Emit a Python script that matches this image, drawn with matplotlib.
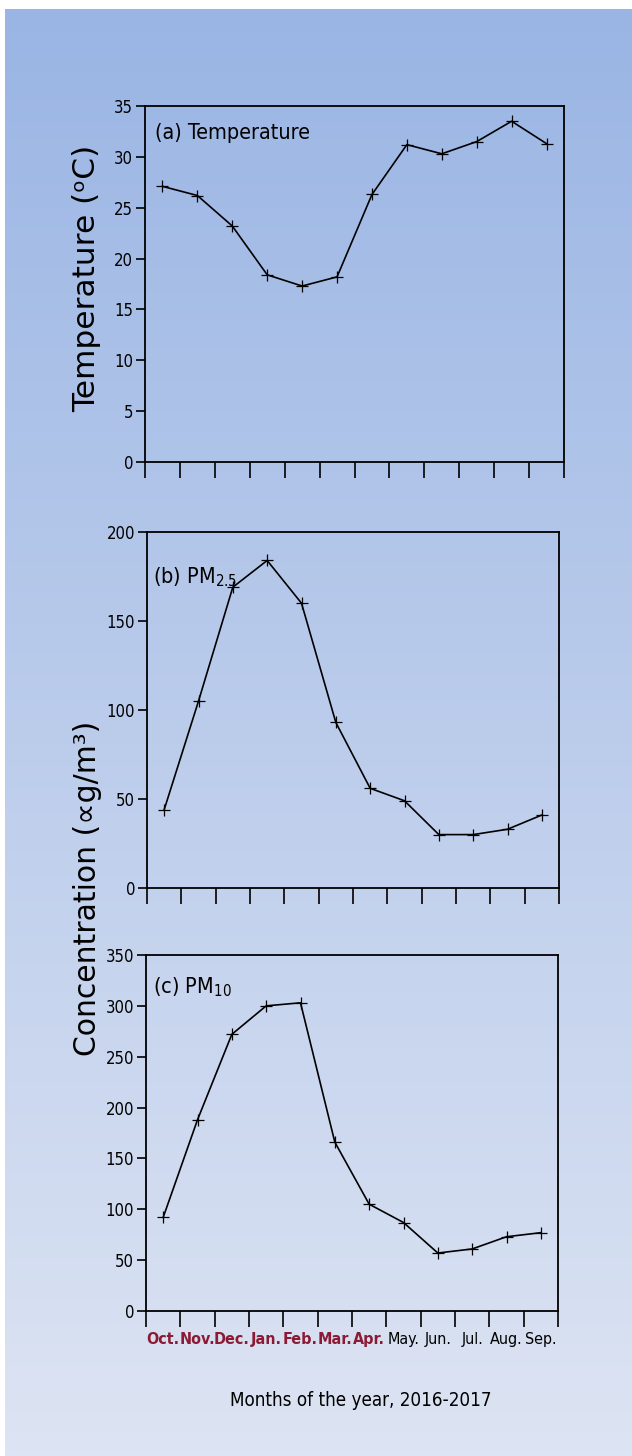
import numpy as np
import matplotlib
matplotlib.use("Agg")
import matplotlib.pyplot as plt
from matplotlib import font_manager as fm
from matplotlib.colors import LinearSegmentedColormap

# look for a narrow face (the reference uses an Arial Narrow-like font)
narrow = None
for f in fm.fontManager.ttflist:
    if f.stretch == 'condensed' or 'Narrow' in f.name or 'Condensed' in f.name:
        narrow = (f.name, f.stretch)
        if 'Sans' in f.name:
            break
if narrow:
    fam, stretch, k = narrow[0], narrow[1], 1.0
else:
    fam, stretch, k = 'Liberation Sans', 'normal', 0.82

plt.rcParams['font.family'] = [fam, 'DejaVu Sans']
plt.rcParams['font.stretch'] = stretch
plt.rcParams['mathtext.fontset'] = 'custom'
plt.rcParams['mathtext.rm'] = fam

# data
months = ['Oct.', 'Nov.', 'Dec.', 'Jan.', 'Feb.', 'Mar.', 'Apr.',
          'May.', 'Jun.', 'Jul.', 'Aug.', 'Sep.']
winter = ['Oct.', 'Nov.', 'Dec.', 'Jan.', 'Feb.', 'Mar.', 'Apr.']
temperature = [27.1, 26.2, 23.2, 18.4, 17.3, 18.2, 26.3, 31.2, 30.3, 31.5, 33.5, 31.3]
pm25 = [44, 105, 169, 184, 160, 93, 56, 49, 30, 30, 33, 41]
pm10 = [92, 188, 272, 300, 303, 166, 105, 87, 57, 61, 73, 77]

W, H = 632, 1456
fig = plt.figure(figsize=(W / 100, H / 100), dpi=100)
fig.patch.set_facecolor('white')

# gradient background panel
bg = fig.add_axes([5 / W, 0, 1 - 5 / W, 1 - 9 / H], zorder=-10)
cmap = LinearSegmentedColormap.from_list('bg', ['#dde4f3', '#9ab5e4'])
bg.imshow(np.linspace(0, 1, 256).reshape(-1, 1), cmap=cmap, aspect='auto',
          origin='lower', extent=[0, 1, 0, 1])
bg.axis('off')

x = np.arange(1, 13)
red = '#8c1a34'


def make_panel(box, y, ymax, step, title, tx, ty, labels=False):
    l, r, t, b = box
    ax = fig.add_axes([l / W, 1 - b / H, (r - l) / W, (b - t) / H])
    ax.patch.set_alpha(0)
    ax.plot(x, y, color='black', lw=1.2, marker='+', ms=8, mew=0.9)
    ax.set_xlim(0.5, 12.5)
    ax.set_ylim(0, ymax)
    ax.set_yticks(np.arange(0, ymax + 1, step))
    ax.set_xticks(np.arange(0.5, 13, 1))
    ax.set_xticklabels([])
    ax.tick_params(axis='x', which='major', direction='out', length=11.5, width=1.2)
    ax.tick_params(axis='y', direction='out', length=6.5, width=1.2, pad=2,
                   labelsize=12 * k)
    for s in ax.spines.values():
        s.set_linewidth(1.3)
    ax.text(tx, ty, title, transform=ax.transAxes, fontsize=15.5 * k, va='center')
    if labels:
        ax.set_xticks(x, minor=True)
        ax.set_xticklabels(months, minor=True, fontsize=11.5 * k)
        ax.tick_params(axis='x', which='minor', length=0, pad=15)
        for lab in ax.get_xticklabels(minor=True):
            if lab.get_text() in winter:
                lab.set_color(red)
                lab.set_fontweight('bold')
    return ax


make_panel((145, 564, 106, 462), temperature, 35, 5, '(a) Temperature', 0.024, 0.924)
make_panel((147, 559, 532, 888), pm25, 200, 50, r'(b) PM$_{\mathrm{2.5}}$', 0.015, 0.874)
make_panel((146, 558, 955, 1311), pm10, 350, 50, r'(c) PM$_{\mathrm{10}}$', 0.018, 0.91,
           labels=True)

fig.text(87 / W, 1 - 278 / H, 'Temperature (\u1d52C)', rotation=90, fontsize=22.5,
         family='DejaVu Sans', stretch='normal', ha='center', va='center')
fig.text(87 / W, 1 - 888 / H, 'Concentration (\u221dg/m\u00b3)', rotation=90,
         fontsize=21.5, family='DejaVu Sans', stretch='normal', ha='center', va='center')
fig.text(361 / W, 1 - 1400 / H, 'Months of the year, 2016-2017', fontsize=13.5 * k,
         ha='center', va='center')

fig.savefig('out.png', dpi=100)
